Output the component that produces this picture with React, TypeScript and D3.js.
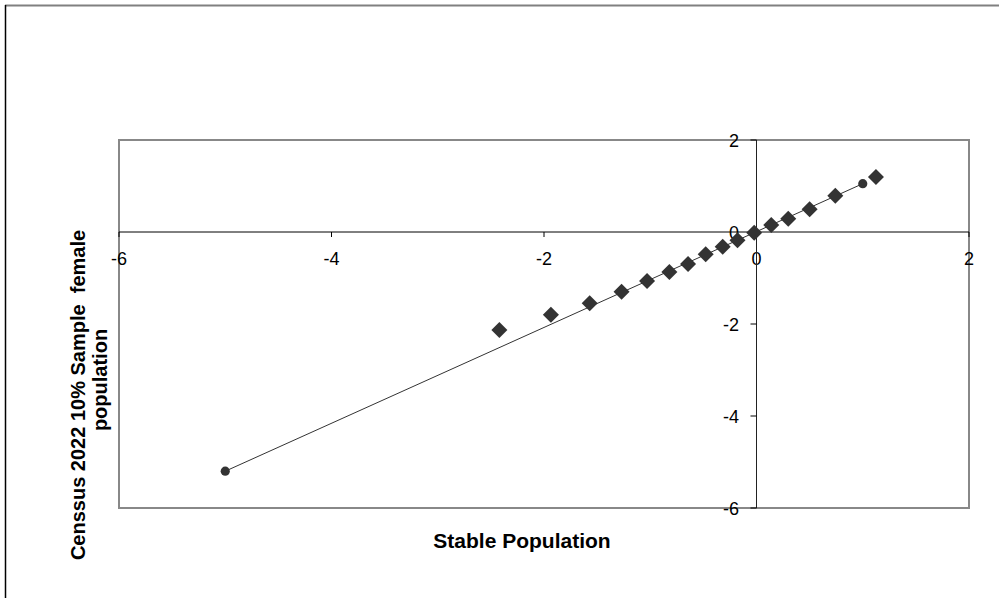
import React from "react";
import * as d3 from "d3";

// stable population (x) vs census sample (y), diamond markers
const stableX = [-2.42, -1.935, -1.57, -1.27, -1.03, -0.82, -0.644, -0.478, -0.318, -0.179, -0.022, 0.139, 0.299, 0.5, 0.742, 1.124];
const censusY = [-2.13, -1.8, -1.55, -1.3, -1.065, -0.87, -0.696, -0.485, -0.32, -0.18, -0.015, 0.152, 0.289, 0.493, 0.789, 1.196];

// reference line, circle markers at both ends
const lineX = [-5.0, 1.0];
const lineY = [-5.2, 1.05];

const xTicks = [-6, -4, -2, 0, 2];
const yTicks = [2, 0, -2, -4, -6];

const W = 999;
const H = 598;
const font = "'Liberation Sans', Arial, sans-serif";

export default function App() {
	const x = d3.scaleLinear().domain([-6, 2]).range([119, 969]);
	const y = d3.scaleLinear().domain([-6, 2]).range([508, 140]);

	const diamond = d3.symbol().type(d3.symbolSquare).size(128)();
	const dot = d3.symbol().type(d3.symbolCircle).size(66)();

	const linePts = lineX.map((v, i) => [v, lineY[i]] as [number, number]);
	const path = d3.line<[number, number]>().x(d => x(d[0])).y(d => y(d[1]))(linePts);

	const x0 = x(0);
	const y0 = y(0);

	return (
		<svg width={W} height={H} style={{ position: "absolute", left: 0, top: 0, background: "#fff" }}>
			{/* outer chart frame */}
			<line x1={5} y1={5.5} x2={W} y2={5.5} stroke="#808080" strokeWidth={2} />
			<line x1={5.5} y1={5} x2={5.5} y2={H} stroke="#000" strokeWidth={1.5} />

			{/* plot area */}
			<rect x={119} y={140} width={850} height={368} fill="none" stroke="#888" strokeWidth={2} />

			{/* x axis through y=0 */}
			<line x1={119} x2={969} y1={y0} y2={y0} stroke="#000" strokeWidth={1} />
			{xTicks.map(t => (
				<g key={"x" + t}>
					<line x1={x(t)} x2={x(t)} y1={y0} y2={y0 + 5} stroke="#000" />
					<text x={x(t)} y={265} textAnchor="middle" fontFamily={font} fontSize={18} fill="#000">{t}</text>
				</g>
			))}

			{/* y axis through x=0 */}
			<line x1={x0} x2={x0} y1={140} y2={508} stroke="#222" strokeWidth={1} />
			{yTicks.map(t => (
				<g key={"y" + t}>
					<line x1={x0 - 6} x2={x0} y1={y(t)} y2={y(t)} stroke="#000" />
					<text x={739} y={y(t) + 6.5} textAnchor="end" fontFamily={font} fontSize={18} fill="#000">{t}</text>
				</g>
			))}

			{/* reference line */}
			<path d={path || ""} fill="none" stroke="#333" strokeWidth={1} />
			{linePts.map((p, i) => (
				<path key={"c" + i} d={dot || ""} transform={`translate(${x(p[0])},${y(p[1])})`} fill="#333" />
			))}

			{/* data points */}
			{stableX.map((v, i) => (
				<path key={"d" + i} d={diamond || ""} transform={`translate(${x(v)},${y(censusY[i])}) rotate(45)`} fill="#333" />
			))}

			{/* titles */}
			<text x={522} y={548} textAnchor="middle" fontFamily={font} fontSize={21} fontWeight="bold" fill="#000">Stable Population</text>
			<text transform="translate(85,395) rotate(-90)" textAnchor="middle" fontFamily={font} fontSize={20} fontWeight="bold" fill="#000" style={{ whiteSpace: "pre" }}>Censsus 2022 10% Sample  female</text>
			<text transform="translate(107,380) rotate(-90)" textAnchor="middle" fontFamily={font} fontSize={20} fontWeight="bold" fill="#000">population</text>
		</svg>
	);
}
